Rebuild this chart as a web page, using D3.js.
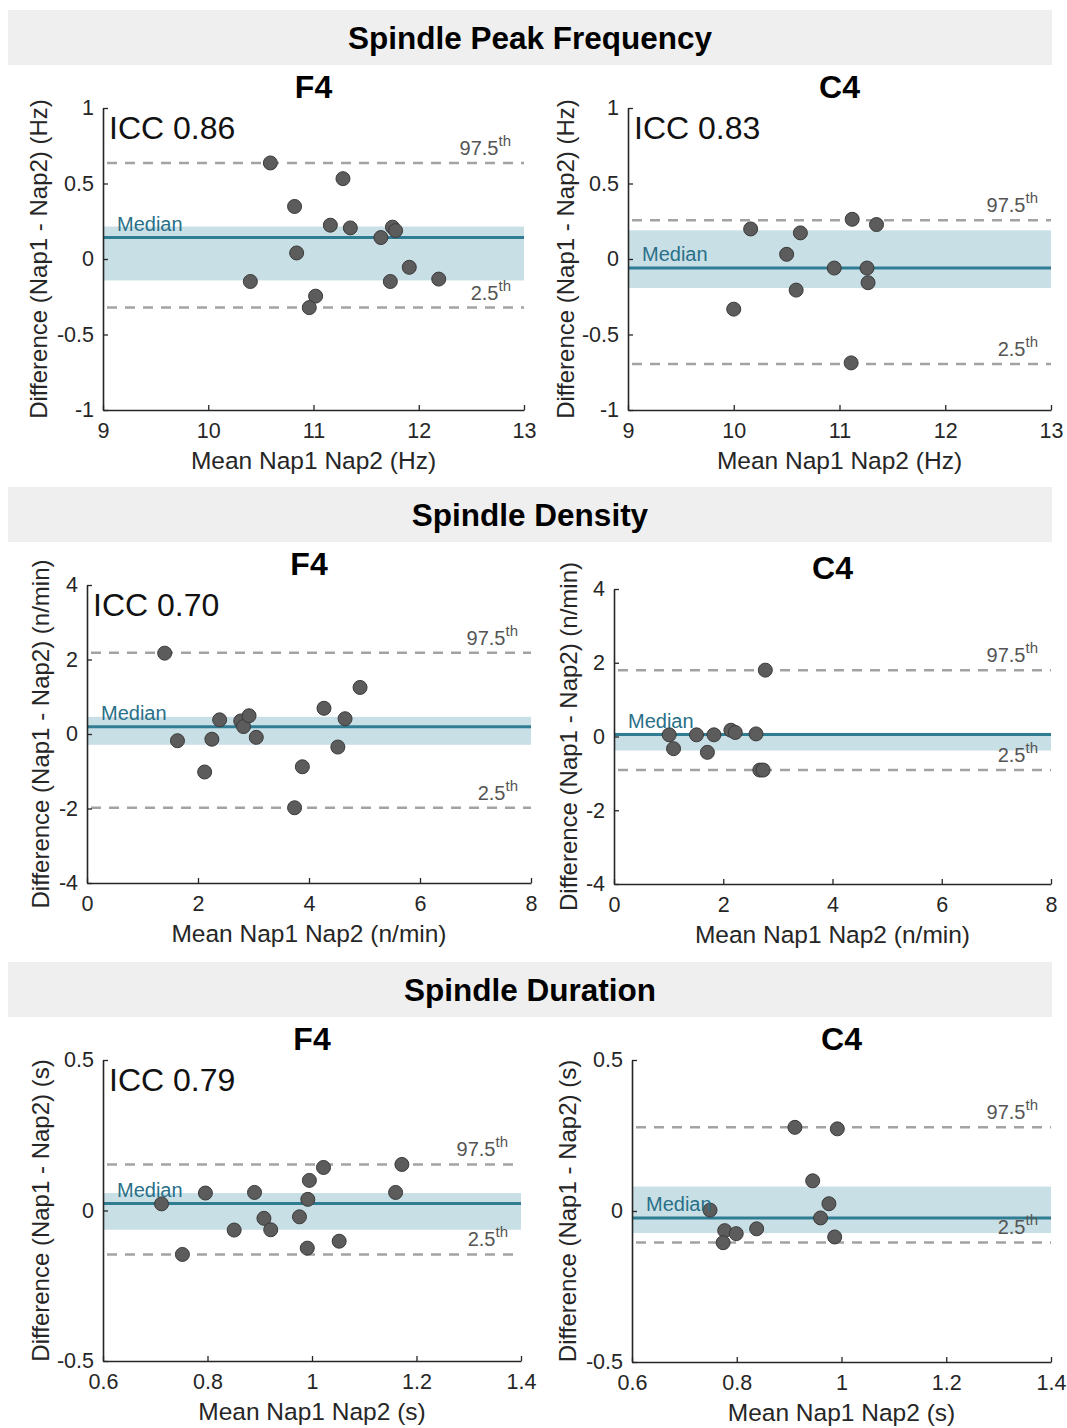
<!DOCTYPE html>
<html>
<head>
<meta charset="utf-8">
<script src="https://cdn.jsdelivr.net/npm/d3@7"></script>
<style>
  body { margin: 0; background: #fff; }
  text { font-family: "Liberation Sans", Arial, sans-serif; }
</style>
</head>
<body>
<svg id="chart" width="1067" height="1428"></svg>
<script>
// Bland-Altman style plots, Nap1 vs Nap2

const sections = ["Spindle Peak Frequency", "Spindle Density", "Spindle Duration"];
const channels = ["F4", "C4"];

// peak frequency
const freqF4Mean = [10.59, 11.28, 10.82, 11.16, 11.35, 11.64, 11.75, 11.78, 10.84, 11.91, 12.19, 10.40, 11.73, 11.02, 10.96];
const freqF4Diff = [0.636, 0.532, 0.348, 0.224, 0.206, 0.142, 0.211, 0.188, 0.04, -0.055, -0.133, -0.149, -0.149, -0.246, -0.322];
const freqC4Mean = [10.0, 10.16, 10.50, 10.59, 10.63, 10.95, 11.12, 11.11, 11.26, 11.27, 11.35];
const freqC4Diff = [-0.332, 0.199, 0.031, -0.206, 0.173, -0.06, 0.263, -0.688, -0.06, -0.157, 0.228];

// density
const densF4Mean = [1.40, 1.63, 2.12, 2.25, 2.39, 2.77, 2.82, 2.92, 3.05, 3.74, 3.88, 4.27, 4.52, 4.65, 4.92];
const densF4Diff = [2.17, -0.18, -1.02, -0.14, 0.38, 0.35, 0.20, 0.49, -0.09, -1.98, -0.88, 0.69, -0.35, 0.41, 1.25];
const densC4Mean = [1.01, 1.09, 1.51, 1.71, 1.83, 2.14, 2.22, 2.60, 2.77, 2.67, 2.73];
const densC4Diff = [0.045, -0.33, 0.045, -0.43, 0.045, 0.17, 0.11, 0.07, 1.80, -0.91, -0.91];

// duration
const durF4Mean = [0.712, 0.752, 0.796, 0.851, 0.890, 0.908, 0.921, 0.976, 0.991, 0.992, 0.995, 1.022, 1.052, 1.160, 1.172];
const durF4Diff = [0.022, -0.146, 0.058, -0.065, 0.060, -0.026, -0.064, -0.021, -0.125, 0.037, 0.10, 0.143, -0.102, 0.060, 0.153];
const durC4Mean = [0.749, 0.777, 0.774, 0.799, 0.838, 0.911, 0.945, 0.960, 0.976, 0.987, 0.992];
const durC4Diff = [0.003, -0.065, -0.105, -0.075, -0.059, 0.277, 0.10, -0.023, 0.024, -0.086, 0.272];

// median, band (low, high), 2.5th, 97.5th per panel
const medians   = [0.142, -0.06, 0.196, 0.054, 0.023, -0.023];
const bandLow   = [-0.142, -0.192, -0.29, -0.38, -0.064, -0.073];
const bandHigh  = [0.215, 0.19, 0.46, 0.10, 0.058, 0.081];
const pct2_5    = [-0.322, -0.695, -1.98, -0.91, -0.146, -0.104];
const pct97_5   = [0.636, 0.257, 2.18, 1.80, 0.153, 0.277];
const iccLabels = ["ICC 0.86", "ICC 0.83", "ICC 0.70", null, "ICC 0.79", null];

const xTicksFreq = [9, 10, 11, 12, 13];
const yTicksFreq = [-1, -0.5, 0, 0.5, 1];
const xTicksDens = [0, 2, 4, 6, 8];
const yTicksDens = [-4, -2, 0, 2, 4];
const xTicksDur = [0.6, 0.8, 1, 1.2, 1.4];
const yTicksDur = [-0.5, 0, 0.5];

const units = ["Hz", "n/min", "s"];

const svg = d3.select("#chart");

const zip = (a, b) => a.map((v, i) => ({x: v, y: b[i]}));

const panels = [
  {pts: zip(freqF4Mean, freqF4Diff), xt: xTicksFreq, yt: yTicksFreq, u: 0, box: [103, 524, 108, 410], ylx: 65},
  {pts: zip(freqC4Mean, freqC4Diff), xt: xTicksFreq, yt: yTicksFreq, u: 0, box: [628, 1051, 108, 410], ylx: 63},
  {pts: zip(densF4Mean, densF4Diff), xt: xTicksDens, yt: yTicksDens, u: 1, box: [87, 531, 585, 883], ylx: 47},
  {pts: zip(densC4Mean, densC4Diff), xt: xTicksDens, yt: yTicksDens, u: 1, box: [614, 1051, 589, 884], ylx: 46},
  {pts: zip(durF4Mean, durF4Diff), xt: xTicksDur, yt: yTicksDur, u: 2, box: [103, 521, 1060, 1361], ylx: 63},
  {pts: zip(durC4Mean, durC4Diff), xt: xTicksDur, yt: yTicksDur, u: 2, box: [632, 1051, 1060, 1362], ylx: 65}
];

const headerY = [10, 487, 962];

// section header bands
sections.forEach((s, i) => {
  svg.append("rect")
    .attr("x", 8).attr("y", headerY[i])
    .attr("width", 1044).attr("height", 55)
    .attr("fill", "#efefef");
  svg.append("text")
    .attr("x", 530).attr("y", headerY[i] + 39)
    .attr("text-anchor", "middle")
    .attr("font-size", 31.5).attr("font-weight", "bold")
    .attr("fill", "#000")
    .text(s);
});

const fmt = d => String(d);

panels.forEach((p, i) => {
  const [l, r, t, b] = p.box;
  const x = d3.scaleLinear().domain([p.xt[0], p.xt[p.xt.length - 1]]).range([l, r]);
  const y = d3.scaleLinear().domain([p.yt[0], p.yt[p.yt.length - 1]]).range([b, t]);
  const g = svg.append("g");

  // title
  g.append("text")
    .attr("x", (l + r) / 2).attr("y", t - 10)
    .attr("text-anchor", "middle")
    .attr("font-size", 32).attr("font-weight", "bold")
    .text(channels[i % 2]);

  // band + median
  g.append("rect")
    .attr("x", l).attr("y", y(bandHigh[i]))
    .attr("width", r - l).attr("height", y(bandLow[i]) - y(bandHigh[i]))
    .attr("fill", "#c9dfe6");
  g.append("line")
    .attr("x1", l).attr("x2", r)
    .attr("y1", y(medians[i])).attr("y2", y(medians[i]))
    .attr("stroke", "#2f7c93").attr("stroke-width", 3);

  // percentile lines
  [pct97_5[i], pct2_5[i]].forEach(v => {
    g.append("line")
      .attr("x1", l + 4).attr("x2", r)
      .attr("y1", y(v)).attr("y2", y(v))
      .attr("stroke", "#a3a3a3").attr("stroke-width", 2.5)
      .attr("stroke-dasharray", "10,8");
  });

  // axes
  const ax = g.append("g")
    .attr("transform", `translate(0,${b})`)
    .call(d3.axisBottom(x).tickValues(p.xt).tickFormat(fmt).tickSizeInner(-5).tickSizeOuter(0).tickPadding(13));
  const ay = g.append("g")
    .attr("transform", `translate(${l},0)`)
    .call(d3.axisLeft(y).tickValues(p.yt).tickFormat(fmt).tickSizeInner(-5).tickSizeOuter(0).tickPadding(9));
  [ax, ay].forEach(a => {
    a.select(".domain").attr("stroke", "#262626").attr("stroke-width", 1.6);
    a.selectAll(".tick line").attr("stroke", "#262626").attr("stroke-width", 1.3);
    a.selectAll(".tick text")
      .attr("font-size", 21.5).attr("fill", "#262626")
      .attr("font-family", "Liberation Sans, Arial, sans-serif");
  });

  // points
  g.append("g").selectAll("circle")
    .data(p.pts)
    .join("circle")
    .attr("cx", d => x(d.x)).attr("cy", d => y(d.y))
    .attr("r", 7)
    .attr("fill", "#5c5c5c").attr("stroke", "#3a3a3a").attr("stroke-width", 1);

  // labels inside plot
  g.append("text")
    .attr("x", l + 14).attr("y", y(medians[i]) - 7)
    .attr("font-size", 20).attr("fill", "#2a7088")
    .text("Median");

  [[pct97_5[i], "97.5"], [pct2_5[i], "2.5"]].forEach(([v, s]) => {
    const tx = g.append("text")
      .attr("x", r - 13).attr("y", y(v) - 8)
      .attr("text-anchor", "end")
      .attr("font-size", 20).attr("fill", "#555");
    tx.append("tspan").text(s);
    tx.append("tspan").attr("dy", -9).attr("font-size", 15).text("th");
  });

  if (iccLabels[i]) {
    g.append("text")
      .attr("x", l + 6).attr("y", t + 31)
      .attr("font-size", 32).attr("fill", "#111")
      .text(iccLabels[i]);
  }

  // axis titles
  g.append("text")
    .attr("x", (l + r) / 2).attr("y", b + 59)
    .attr("text-anchor", "middle")
    .attr("font-size", 24.5).attr("fill", "#262626")
    .text(`Mean Nap1 Nap2 (${units[p.u]})`);
  g.append("text")
    .attr("transform", `translate(${l - p.ylx},${(t + b) / 2}) rotate(-90)`)
    .attr("text-anchor", "middle")
    .attr("dominant-baseline", "central")
    .attr("font-size", 24).attr("fill", "#262626")
    .text(`Difference (Nap1 - Nap2) (${units[p.u]})`);
});
</script>
</body>
</html>
